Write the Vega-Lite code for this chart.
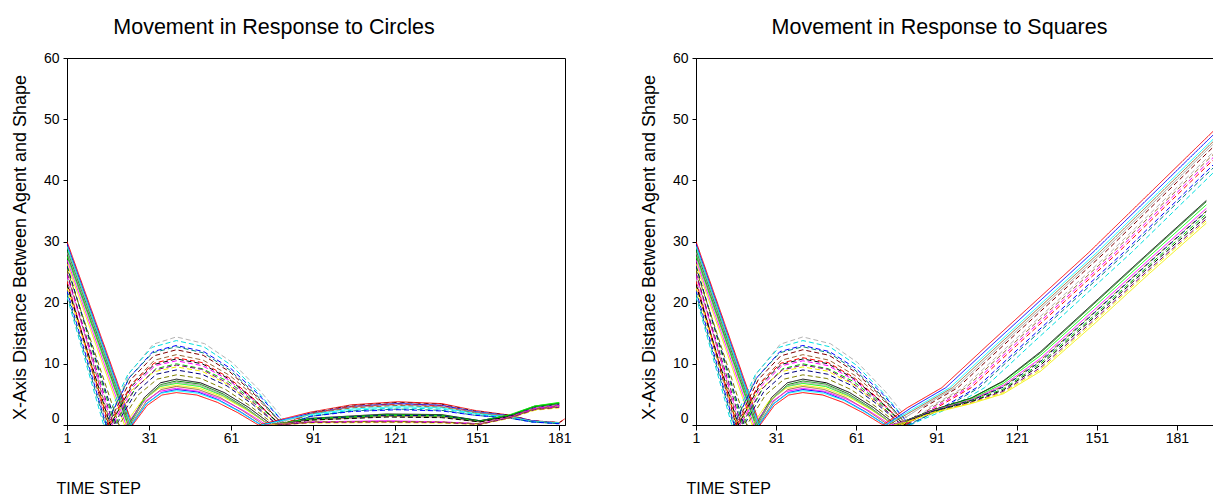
{
"$schema": "https://vega.github.io/schema/vega-lite/v6.json",
"background": "white",
"padding": {"left": 10, "top": 16, "right": 0, "bottom": 0},
"bounds": "flush",
"spacing": 131,
"config": {
 "font": "Liberation Sans",
 "view": {"stroke": "#000", "strokeWidth": 1},
 "axis": {"grid": false, "domainColor": "#000", "tickColor": "#000", "labelColor": "#000", "titleColor": "#000", "labelFont": "Liberation Sans", "titleFont": "Liberation Sans", "titleFontWeight": "normal"},
 "title": {"font": "Liberation Sans", "fontWeight": "normal", "color": "#000", "fontSize": 21.5}
},
"datasets": {
"early": [
{"s":1,"t":1,"v":30},{"s":1,"t":25,"v":0},{"s":1,"t":30.3,"v":3.2},{"s":1,"t":35.7,"v":4.9},{"s":1,"t":41,"v":5.3},{"s":1,"t":48.5,"v":4.9},{"s":1,"t":56,"v":3.7},{"s":1,"t":63.5,"v":2},{"s":1,"t":71,"v":0},
{"s":2,"t":1,"v":29.6},{"s":2,"t":24.6,"v":0},{"s":2,"t":30.1,"v":3.5},{"s":2,"t":35.5,"v":5.3},{"s":2,"t":41,"v":5.8},{"s":2,"t":48.8,"v":5.4},{"s":2,"t":56.5,"v":4.1},{"s":2,"t":64.3,"v":2.2},{"s":2,"t":72,"v":0},
{"s":3,"t":1,"v":29.2},{"s":3,"t":24.3,"v":0},{"s":3,"t":29.9,"v":3.8},{"s":3,"t":35.4,"v":5.8},{"s":3,"t":41,"v":6.3},{"s":3,"t":49,"v":5.8},{"s":3,"t":57,"v":4.5},{"s":3,"t":65,"v":2.4},{"s":3,"t":73,"v":0},
{"s":4,"t":1,"v":28},{"s":4,"t":23.5,"v":0},{"s":4,"t":29.3,"v":4.5},{"s":4,"t":35.2,"v":6.9},{"s":4,"t":41,"v":7.5},{"s":4,"t":49.8,"v":6.9},{"s":4,"t":58.5,"v":5.3},{"s":4,"t":67.3,"v":2.9},{"s":4,"t":76,"v":0},
{"s":5,"t":1,"v":28.6},{"s":5,"t":23.9,"v":0},{"s":5,"t":29.6,"v":4.3},{"s":5,"t":35.3,"v":6.6},{"s":5,"t":41,"v":7.2},{"s":5,"t":49.5,"v":6.7},{"s":5,"t":58,"v":5.1},{"s":5,"t":66.5,"v":2.8},{"s":5,"t":75,"v":0},
{"s":6,"t":1,"v":27.6},{"s":6,"t":23.2,"v":0},{"s":6,"t":29.1,"v":4.1},{"s":6,"t":35.1,"v":6.3},{"s":6,"t":41,"v":6.8},{"s":6,"t":49.5,"v":6.3},{"s":6,"t":58,"v":4.8},{"s":6,"t":66.5,"v":2.6},{"s":6,"t":75,"v":0},
{"s":7,"t":1,"v":27},{"s":7,"t":22.6,"v":0},{"s":7,"t":28.7,"v":3.6},{"s":7,"t":34.9,"v":5.5},{"s":7,"t":41,"v":6},{"s":7,"t":49.3,"v":5.5},{"s":7,"t":57.5,"v":4.2},{"s":7,"t":65.8,"v":2.3},{"s":7,"t":74,"v":0},
{"s":8,"t":1,"v":26.4},{"s":8,"t":22,"v":0},{"s":8,"t":28.3,"v":3.9},{"s":8,"t":34.7,"v":6},{"s":8,"t":41,"v":6.5},{"s":8,"t":49.5,"v":6},{"s":8,"t":58,"v":4.6},{"s":8,"t":66.5,"v":2.5},{"s":8,"t":75,"v":0},
{"s":9,"t":1,"v":29.2},{"s":9,"t":24.4,"v":0},{"s":9,"t":29.9,"v":3.4},{"s":9,"t":35.5,"v":5.2},{"s":9,"t":41,"v":5.6},{"s":9,"t":48.8,"v":5.2},{"s":9,"t":56.5,"v":4},{"s":9,"t":64.3,"v":2.1},{"s":9,"t":72,"v":0},
{"s":10,"t":1,"v":28.2},{"s":10,"t":23.7,"v":0},{"s":10,"t":29.5,"v":4.2},{"s":10,"t":35.2,"v":6.4},{"s":10,"t":41,"v":7},{"s":10,"t":49.5,"v":6.5},{"s":10,"t":58,"v":4.9},{"s":10,"t":66.5,"v":2.7},{"s":10,"t":75,"v":0},
{"s":11,"t":1,"v":24},{"s":11,"t":15.5,"v":0},{"s":11,"t":24,"v":8.6},{"s":11,"t":32.5,"v":13.2},{"s":11,"t":41,"v":14.4},{"s":11,"t":51.3,"v":13.3},{"s":11,"t":61.5,"v":10.2},{"s":11,"t":71.8,"v":5.5},{"s":11,"t":82,"v":0},
{"s":12,"t":1,"v":21},{"s":12,"t":14.4,"v":0},{"s":12,"t":23.3,"v":8.3},{"s":12,"t":32.1,"v":12.7},{"s":12,"t":41,"v":13.8},{"s":12,"t":51,"v":12.8},{"s":12,"t":61,"v":9.8},{"s":12,"t":71,"v":5.3},{"s":12,"t":81,"v":0},
{"s":13,"t":1,"v":22},{"s":13,"t":15.3,"v":0},{"s":13,"t":23.9,"v":7.8},{"s":13,"t":32.4,"v":12},{"s":13,"t":41,"v":13},{"s":13,"t":51,"v":12},{"s":13,"t":61,"v":9.2},{"s":13,"t":71,"v":5},{"s":13,"t":81,"v":0},
{"s":14,"t":1,"v":23},{"s":14,"t":16,"v":0},{"s":14,"t":24.3,"v":7.4},{"s":14,"t":32.7,"v":11.3},{"s":14,"t":41,"v":12.3},{"s":14,"t":50.8,"v":11.4},{"s":14,"t":60.5,"v":8.7},{"s":14,"t":70.3,"v":4.7},{"s":14,"t":80,"v":0},
{"s":15,"t":1,"v":25},{"s":15,"t":17,"v":0},{"s":15,"t":25,"v":6.9},{"s":15,"t":33,"v":10.6},{"s":15,"t":41,"v":11.5},{"s":15,"t":50.8,"v":10.6},{"s":15,"t":60.5,"v":8.1},{"s":15,"t":70.3,"v":4.4},{"s":15,"t":80,"v":0},
{"s":16,"t":1,"v":24.5},{"s":16,"t":17.5,"v":0},{"s":16,"t":25.3,"v":6.3},{"s":16,"t":33.2,"v":9.7},{"s":16,"t":41,"v":10.5},{"s":16,"t":50.5,"v":9.7},{"s":16,"t":60,"v":7.4},{"s":16,"t":69.5,"v":4},{"s":16,"t":79,"v":0},
{"s":17,"t":1,"v":26},{"s":17,"t":18.5,"v":0},{"s":17,"t":26,"v":6},{"s":17,"t":33.5,"v":9.2},{"s":17,"t":41,"v":10},{"s":17,"t":50.5,"v":9.2},{"s":17,"t":60,"v":7.1},{"s":17,"t":69.5,"v":3.8},{"s":17,"t":79,"v":0},
{"s":18,"t":1,"v":22.5},{"s":18,"t":16.5,"v":0},{"s":18,"t":24.7,"v":5.7},{"s":18,"t":32.8,"v":8.7},{"s":18,"t":41,"v":9.5},{"s":18,"t":50.3,"v":8.8},{"s":18,"t":59.5,"v":6.7},{"s":18,"t":68.8,"v":3.6},{"s":18,"t":78,"v":0},
{"s":19,"t":1,"v":26},{"s":19,"t":19,"v":0},{"s":19,"t":26.3,"v":5.4},{"s":19,"t":33.7,"v":8.3},{"s":19,"t":41,"v":9},{"s":19,"t":50.3,"v":8.3},{"s":19,"t":59.5,"v":6.4},{"s":19,"t":68.8,"v":3.4},{"s":19,"t":78,"v":0},
{"s":20,"t":1,"v":25.5},{"s":20,"t":20,"v":0},{"s":20,"t":27,"v":4.9},{"s":20,"t":34,"v":7.5},{"s":20,"t":41,"v":8.2},{"s":20,"t":50,"v":7.6},{"s":20,"t":59,"v":5.8},{"s":20,"t":68,"v":3.1},{"s":20,"t":77,"v":0},
{"s":21,"t":1,"v":23.5},{"s":21,"t":16.3,"v":0},{"s":21,"t":24.5,"v":6.6},{"s":21,"t":32.8,"v":10.1},{"s":21,"t":41,"v":11},{"s":21,"t":50.5,"v":10.2},{"s":21,"t":60,"v":7.8},{"s":21,"t":69.5,"v":4.2},{"s":21,"t":79,"v":0},
{"s":22,"t":1,"v":21.5},{"s":22,"t":15,"v":0},{"s":22,"t":23.7,"v":7.7},{"s":22,"t":32.3,"v":11.8},{"s":22,"t":41,"v":12.8},{"s":22,"t":50.8,"v":11.8},{"s":22,"t":60.5,"v":9},{"s":22,"t":70.3,"v":4.9},{"s":22,"t":80,"v":0},
{"s":23,"t":1,"v":24.8},{"s":23,"t":18,"v":0},{"s":23,"t":25.7,"v":5.9},{"s":23,"t":33.3,"v":9},{"s":23,"t":41,"v":9.8},{"s":23,"t":50.3,"v":9.1},{"s":23,"t":59.5,"v":6.9},{"s":23,"t":68.8,"v":3.8},{"s":23,"t":78,"v":0},
{"s":24,"t":1,"v":23},{"s":24,"t":16.8,"v":0},{"s":24,"t":24.9,"v":6.5},{"s":24,"t":32.9,"v":9.9},{"s":24,"t":41,"v":10.8},{"s":24,"t":50.5,"v":10},{"s":24,"t":60,"v":7.6},{"s":24,"t":69.5,"v":4.1},{"s":24,"t":79,"v":0}
],
"lateC": [
{"s":1,"t":71,"v":0},{"s":1,"t":90,"v":2.1},{"s":1,"t":105,"v":3.3},{"s":1,"t":122,"v":3.8},{"s":1,"t":138,"v":3.5},{"s":1,"t":150,"v":2.4},{"s":1,"t":163,"v":1.6},{"s":1,"t":171,"v":0.7},{"s":1,"t":181,"v":0.4},{"s":1,"t":183,"v":1},
{"s":14,"t":80,"v":0},{"s":14,"t":90,"v":2},{"s":14,"t":105,"v":3.2},{"s":14,"t":122,"v":3.7},{"s":14,"t":138,"v":3.4},{"s":14,"t":150,"v":2.3},{"s":14,"t":163,"v":1.6},{"s":14,"t":171,"v":0.7},{"s":14,"t":181,"v":0.4},{"s":14,"t":183,"v":0.9},
{"s":11,"t":82,"v":0},{"s":11,"t":90,"v":2},{"s":11,"t":105,"v":3.1},{"s":11,"t":122,"v":3.6},{"s":11,"t":138,"v":3.3},{"s":11,"t":150,"v":2.3},{"s":11,"t":163,"v":1.5},{"s":11,"t":171,"v":0.7},{"s":11,"t":181,"v":0.4},
{"s":2,"t":72,"v":0},{"s":2,"t":90,"v":1.9},{"s":2,"t":105,"v":3},{"s":2,"t":122,"v":3.5},{"s":2,"t":138,"v":3.2},{"s":2,"t":150,"v":2.2},{"s":2,"t":163,"v":1.5},{"s":2,"t":171,"v":0.7},{"s":2,"t":181,"v":0.3},
{"s":21,"t":79,"v":0},{"s":21,"t":90,"v":1.9},{"s":21,"t":105,"v":3},{"s":21,"t":122,"v":3.4},{"s":21,"t":138,"v":3.1},{"s":21,"t":150,"v":2.1},{"s":21,"t":163,"v":1.4},{"s":21,"t":171,"v":0.6},{"s":21,"t":181,"v":0.3},
{"s":10,"t":75,"v":0},{"s":10,"t":90,"v":1.8},{"s":10,"t":105,"v":2.9},{"s":10,"t":122,"v":3.3},{"s":10,"t":138,"v":3},{"s":10,"t":150,"v":2.1},{"s":10,"t":163,"v":1.4},{"s":10,"t":171,"v":0.6},{"s":10,"t":181,"v":0.3},
{"s":15,"t":80,"v":0},{"s":15,"t":90,"v":1.8},{"s":15,"t":105,"v":2.8},{"s":15,"t":122,"v":3.2},{"s":15,"t":138,"v":2.9},{"s":15,"t":150,"v":2},{"s":15,"t":163,"v":1.3},{"s":15,"t":171,"v":0.6},{"s":15,"t":181,"v":0.3},
{"s":9,"t":72,"v":0},{"s":9,"t":90,"v":1.7},{"s":9,"t":105,"v":2.6},{"s":9,"t":122,"v":3},{"s":9,"t":138,"v":2.8},{"s":9,"t":150,"v":1.9},{"s":9,"t":163,"v":1.3},{"s":9,"t":171,"v":0.6},{"s":9,"t":181,"v":0.3},
{"s":12,"t":81,"v":0},{"s":12,"t":90,"v":1.5},{"s":12,"t":105,"v":2.4},{"s":12,"t":122,"v":2.8},{"s":12,"t":138,"v":2.6},{"s":12,"t":150,"v":1.8},{"s":12,"t":163,"v":1.2},{"s":12,"t":171,"v":0.5},{"s":12,"t":181,"v":0.3},
{"s":22,"t":80,"v":0},{"s":22,"t":90,"v":1.4},{"s":22,"t":105,"v":2.3},{"s":22,"t":122,"v":2.6},{"s":22,"t":138,"v":2.4},{"s":22,"t":150,"v":1.6},{"s":22,"t":163,"v":1.1},{"s":22,"t":171,"v":0.5},{"s":22,"t":181,"v":0.2},
{"s":13,"t":81,"v":0},{"s":13,"t":90,"v":1.4},{"s":13,"t":105,"v":2.2},{"s":13,"t":122,"v":2.5},{"s":13,"t":138,"v":2.3},{"s":13,"t":150,"v":1.6},{"s":13,"t":163,"v":1.1},{"s":13,"t":171,"v":0.5},{"s":13,"t":181,"v":0.2},
{"s":4,"t":76,"v":0},{"s":4,"t":90,"v":1.1},{"s":4,"t":118,"v":1.8},{"s":4,"t":138,"v":1.7},{"s":4,"t":152,"v":0.7},{"s":4,"t":163,"v":1.6},{"s":4,"t":172,"v":3},{"s":4,"t":181,"v":3.5},
{"s":5,"t":75,"v":0},{"s":5,"t":90,"v":1},{"s":5,"t":118,"v":1.7},{"s":5,"t":138,"v":1.6},{"s":5,"t":152,"v":0.7},{"s":5,"t":163,"v":1.6},{"s":5,"t":172,"v":3.1},{"s":5,"t":181,"v":3.6},
{"s":6,"t":75,"v":0},{"s":6,"t":90,"v":1},{"s":6,"t":118,"v":1.6},{"s":6,"t":138,"v":1.5},{"s":6,"t":152,"v":0.6},{"s":6,"t":163,"v":1.7},{"s":6,"t":172,"v":3.1},{"s":6,"t":181,"v":3.7},
{"s":17,"t":79,"v":0},{"s":17,"t":90,"v":0.9},{"s":17,"t":118,"v":1.5},{"s":17,"t":138,"v":1.4},{"s":17,"t":152,"v":0.6},{"s":17,"t":163,"v":1.5},{"s":17,"t":172,"v":2.9},{"s":17,"t":181,"v":3.4},
{"s":19,"t":78,"v":0},{"s":19,"t":90,"v":1},{"s":19,"t":118,"v":1.6},{"s":19,"t":138,"v":1.5},{"s":19,"t":152,"v":0.6},{"s":19,"t":163,"v":1.5},{"s":19,"t":172,"v":2.8},{"s":19,"t":181,"v":3.3},
{"s":3,"t":73,"v":0},{"s":3,"t":90,"v":0.8},{"s":3,"t":118,"v":1.4},{"s":3,"t":138,"v":1.3},{"s":3,"t":152,"v":0.5},{"s":3,"t":163,"v":1.4},{"s":3,"t":172,"v":2.7},{"s":3,"t":181,"v":3.2},
{"s":24,"t":79,"v":0},{"s":24,"t":90,"v":0.8},{"s":24,"t":118,"v":1.3},{"s":24,"t":138,"v":1.2},{"s":24,"t":152,"v":0.5},{"s":24,"t":163,"v":1.4},{"s":24,"t":172,"v":2.6},{"s":24,"t":181,"v":3.1},
{"s":7,"t":74,"v":0},{"s":7,"t":90,"v":0.5},{"s":7,"t":118,"v":0.7},{"s":7,"t":138,"v":0.5},{"s":7,"t":152,"v":0.2},{"s":7,"t":163,"v":1.3},{"s":7,"t":172,"v":2.7},{"s":7,"t":181,"v":3.2},
{"s":8,"t":75,"v":0},{"s":8,"t":90,"v":0.4},{"s":8,"t":118,"v":0.5},{"s":8,"t":138,"v":0.4},{"s":8,"t":152,"v":0.1},{"s":8,"t":163,"v":1.2},{"s":8,"t":172,"v":2.5},{"s":8,"t":181,"v":2.9},
{"s":16,"t":79,"v":0},{"s":16,"t":90,"v":0.5},{"s":16,"t":118,"v":0.6},{"s":16,"t":138,"v":0.5},{"s":16,"t":152,"v":0.2},{"s":16,"t":163,"v":1.2},{"s":16,"t":172,"v":2.6},{"s":16,"t":181,"v":3},
{"s":18,"t":78,"v":0},{"s":18,"t":90,"v":0.3},{"s":18,"t":118,"v":0.4},{"s":18,"t":138,"v":0.3},{"s":18,"t":152,"v":0.1},{"s":18,"t":163,"v":1.1},{"s":18,"t":172,"v":2.4},{"s":18,"t":181,"v":2.8},
{"s":20,"t":77,"v":0},{"s":20,"t":90,"v":0.5},{"s":20,"t":118,"v":0.6},{"s":20,"t":138,"v":0.5},{"s":20,"t":152,"v":0.2},{"s":20,"t":163,"v":1.2},{"s":20,"t":172,"v":2.6},{"s":20,"t":181,"v":3},
{"s":23,"t":78,"v":0},{"s":23,"t":90,"v":0.4},{"s":23,"t":118,"v":0.5},{"s":23,"t":138,"v":0.4},{"s":23,"t":152,"v":0.1},{"s":23,"t":163,"v":1.2},{"s":23,"t":172,"v":2.5},{"s":23,"t":181,"v":2.9}
],
"lateS": [
{"s":1,"t":71,"v":0},{"s":1,"t":80,"v":2.8},{"s":1,"t":93,"v":6.1},{"s":1,"t":110,"v":13},{"s":1,"t":128,"v":20.2},{"s":1,"t":148,"v":28.2},{"s":1,"t":175,"v":39.7},{"s":1,"t":194.5,"v":48},
{"s":2,"t":72,"v":0},{"s":2,"t":81.5,"v":2.8},{"s":2,"t":94.5,"v":6.1},{"s":2,"t":111.5,"v":13},{"s":2,"t":129.5,"v":20.2},{"s":2,"t":149.5,"v":28.2},{"s":2,"t":176.5,"v":39.7},{"s":2,"t":194.5,"v":47.4},
{"s":9,"t":72,"v":0},{"s":9,"t":83,"v":2.8},{"s":9,"t":96,"v":6.1},{"s":9,"t":113,"v":13},{"s":9,"t":131,"v":20.2},{"s":9,"t":151,"v":28.2},{"s":9,"t":178,"v":39.7},{"s":9,"t":194.5,"v":46.7},
{"s":3,"t":73,"v":0},{"s":3,"t":84,"v":2.8},{"s":3,"t":97,"v":6.1},{"s":3,"t":114,"v":13},{"s":3,"t":132,"v":20.2},{"s":3,"t":152,"v":28.2},{"s":3,"t":179,"v":39.7},{"s":3,"t":194.5,"v":46.3},
{"s":10,"t":75,"v":0},{"s":10,"t":85,"v":2.8},{"s":10,"t":98,"v":6.1},{"s":10,"t":115,"v":13},{"s":10,"t":133,"v":20.2},{"s":10,"t":153,"v":28.2},{"s":10,"t":180,"v":39.7},{"s":10,"t":194.5,"v":45.9},
{"s":14,"t":80,"v":0},{"s":14,"t":86,"v":2.8},{"s":14,"t":99,"v":6.1},{"s":14,"t":116,"v":13},{"s":14,"t":134,"v":20.2},{"s":14,"t":154,"v":28.2},{"s":14,"t":181,"v":39.7},{"s":14,"t":194.5,"v":45.4},
{"s":11,"t":82,"v":0},{"s":11,"t":88,"v":2.8},{"s":11,"t":101,"v":6.1},{"s":11,"t":118,"v":13},{"s":11,"t":136,"v":20.2},{"s":11,"t":156,"v":28.2},{"s":11,"t":183,"v":39.7},{"s":11,"t":194.5,"v":44.6},
{"s":15,"t":80,"v":0},{"s":15,"t":89,"v":2.8},{"s":15,"t":102,"v":6.1},{"s":15,"t":119,"v":13},{"s":15,"t":137,"v":20.2},{"s":15,"t":157,"v":28.2},{"s":15,"t":184,"v":39.7},{"s":15,"t":194.5,"v":44.2},
{"s":16,"t":79,"v":0},{"s":16,"t":90,"v":2.8},{"s":16,"t":103,"v":6.1},{"s":16,"t":120,"v":13},{"s":16,"t":138,"v":20.2},{"s":16,"t":158,"v":28.2},{"s":16,"t":185,"v":39.7},{"s":16,"t":194.5,"v":43.7},
{"s":21,"t":79,"v":0},{"s":21,"t":91,"v":2.8},{"s":21,"t":104,"v":6.1},{"s":21,"t":121,"v":13},{"s":21,"t":139,"v":20.2},{"s":21,"t":159,"v":28.2},{"s":21,"t":186,"v":39.7},{"s":21,"t":194.5,"v":43.3},
{"s":13,"t":81,"v":0},{"s":13,"t":93,"v":2.8},{"s":13,"t":106,"v":6.1},{"s":13,"t":123,"v":13},{"s":13,"t":141,"v":20.2},{"s":13,"t":161,"v":28.2},{"s":13,"t":188,"v":39.7},{"s":13,"t":194.5,"v":42.5},
{"s":22,"t":80,"v":0},{"s":22,"t":94,"v":2.8},{"s":22,"t":107,"v":6.1},{"s":22,"t":124,"v":13},{"s":22,"t":142,"v":20.2},{"s":22,"t":162,"v":28.2},{"s":22,"t":189,"v":39.7},{"s":22,"t":194.5,"v":42},
{"s":12,"t":81,"v":0},{"s":12,"t":96,"v":2.8},{"s":12,"t":109,"v":6.1},{"s":12,"t":126,"v":13},{"s":12,"t":144,"v":20.2},{"s":12,"t":164,"v":28.2},{"s":12,"t":191,"v":39.7},{"s":12,"t":194.5,"v":41.2},
{"s":4,"t":76,"v":0},{"s":4,"t":80,"v":0.8},{"s":4,"t":90,"v":2.5},{"s":4,"t":104,"v":4.4},{"s":4,"t":116,"v":7.2},{"s":4,"t":130,"v":12},{"s":4,"t":150,"v":20},{"s":4,"t":170,"v":28},{"s":4,"t":192,"v":36.7},
{"s":5,"t":75,"v":0},{"s":5,"t":80,"v":0.8},{"s":5,"t":90,"v":2.5},{"s":5,"t":104,"v":4.4},{"s":5,"t":116,"v":7.1},{"s":5,"t":130,"v":11.8},{"s":5,"t":150,"v":19.8},{"s":5,"t":170,"v":27.8},{"s":5,"t":192,"v":36.5},
{"s":6,"t":75,"v":0},{"s":6,"t":80,"v":0.7},{"s":6,"t":90,"v":2.4},{"s":6,"t":104,"v":4.2},{"s":6,"t":116,"v":6.8},{"s":6,"t":130,"v":11.4},{"s":6,"t":150,"v":19.3},{"s":6,"t":170,"v":27.3},{"s":6,"t":192,"v":36},
{"s":7,"t":74,"v":0},{"s":7,"t":80,"v":0.7},{"s":7,"t":90,"v":2.4},{"s":7,"t":104,"v":4.1},{"s":7,"t":116,"v":6.5},{"s":7,"t":130,"v":10.9},{"s":7,"t":150,"v":18.8},{"s":7,"t":170,"v":26.8},{"s":7,"t":192,"v":35.4},
{"s":20,"t":77,"v":0},{"s":20,"t":80,"v":0.7},{"s":20,"t":90,"v":2.3},{"s":20,"t":104,"v":4},{"s":20,"t":116,"v":6.3},{"s":20,"t":130,"v":10.6},{"s":20,"t":150,"v":18.4},{"s":20,"t":170,"v":26.4},{"s":20,"t":192,"v":35},
{"s":19,"t":78,"v":0},{"s":19,"t":80,"v":0.7},{"s":19,"t":90,"v":2.3},{"s":19,"t":104,"v":4},{"s":19,"t":116,"v":6.2},{"s":19,"t":130,"v":10.4},{"s":19,"t":150,"v":18.3},{"s":19,"t":170,"v":26.3},{"s":19,"t":192,"v":34.9},
{"s":17,"t":79,"v":0},{"s":17,"t":80,"v":0.6},{"s":17,"t":90,"v":2.2},{"s":17,"t":104,"v":3.9},{"s":17,"t":116,"v":5.9},{"s":17,"t":130,"v":10.1},{"s":17,"t":150,"v":17.9},{"s":17,"t":170,"v":25.9},{"s":17,"t":192,"v":34.5},
{"s":24,"t":79,"v":0},{"s":24,"t":80,"v":0.6},{"s":24,"t":90,"v":2.2},{"s":24,"t":104,"v":3.8},{"s":24,"t":116,"v":5.7},{"s":24,"t":130,"v":9.8},{"s":24,"t":150,"v":17.6},{"s":24,"t":170,"v":25.6},{"s":24,"t":192,"v":34.1},
{"s":23,"t":78,"v":0},{"s":23,"t":80,"v":0.6},{"s":23,"t":90,"v":2.1},{"s":23,"t":104,"v":3.7},{"s":23,"t":116,"v":5.5},{"s":23,"t":130,"v":9.4},{"s":23,"t":150,"v":17.2},{"s":23,"t":170,"v":25.2},{"s":23,"t":192,"v":33.7},
{"s":18,"t":78,"v":0},{"s":18,"t":80,"v":0.5},{"s":18,"t":90,"v":2.1},{"s":18,"t":104,"v":3.6},{"s":18,"t":116,"v":5.3},{"s":18,"t":130,"v":9.1},{"s":18,"t":150,"v":16.9},{"s":18,"t":170,"v":24.9},{"s":18,"t":192,"v":33.4},
{"s":8,"t":75,"v":0},{"s":8,"t":80,"v":0.5},{"s":8,"t":90,"v":2},{"s":8,"t":104,"v":3.5},{"s":8,"t":116,"v":5.1},{"s":8,"t":130,"v":8.8},{"s":8,"t":150,"v":16.5},{"s":8,"t":170,"v":24.5},{"s":8,"t":192,"v":33}
]
},
"hconcat": [
{
 "width": 498, "height": 367,
 "title": {"text": "Movement in Response to Circles", "frame": "group", "anchor": "middle", "dx": -42, "baseline": "alphabetic", "offset": -4},
 "encoding": {
  "x": {"field": "t", "type": "quantitative", "scale": {"domain": [1, 183.1], "nice": false, "zero": false},
   "axis": {"values": [1,31,61,91,121,151,181], "format": "d", "labelFlush": false, "labelOverlap": false, "tickSize": 5, "labelPadding": 1, "labelFontSize": 14, "title": "TIME STEP", "titleFontSize": 16, "titleX": -11, "titleY": 68, "titleAlign": "left", "titleBaseline": "alphabetic"}},
  "y": {"field": "v", "type": "quantitative", "scale": {"domain": [0, 60], "nice": false},
   "axis": {"values": [0,10,20,30,40,50,60], "tickSize": 4, "labelPadding": 4, "labelFontSize": 14, "labelOverlap": false, "labelBaseline": {"condition": {"test": "datum.value === 0", "value": "bottom"}, "value": "middle"}, "title": "X-Axis Distance Between Agent and Shape", "titleFontSize": 18, "titleX": -47, "titleY": 189, "titleAngle": 270, "titleAlign": "center", "titleBaseline": "middle"}},
  "color": {"field": "s", "type": "nominal", "legend": null, "scale": {"domain": [1,2,3,4,5,6,7,8,9,10,11,12,13,14,15,16,17,18,19,20,21,22,23,24], "range": ["#FF0000","#0000FF","#996633","#000000","#008000","#00FF00","#FF00FF","#F2F200","#00FFFF","#A0A0A0","#B4B4B4","#00E0E0","#0000FF","#800000","#996633","#FF00FF","#00CC00","#F2F200","#000080","#808000","#FF0000","#008080","#800080","#000000"]}},
  "strokeDash": {"field": "s", "type": "nominal", "legend": null, "scale": {"domain": [1,2,3,4,5,6,7,8,9,10,11,12,13,14,15,16,17,18,19,20,21,22,23,24], "range": [[1,0],[1,0],[1,0],[1,0],[1,0],[1,0],[1,0],[1,0],[1,0],[1,0],[5,3],[5,3],[5,3],[5,3],[5,3],[5,3],[5,3],[5,3],[5,3],[5,3],[5,3],[5,3],[5,3],[5,3]]}}
 },
 "layer": [
  {"data": {"name": "early"}, "mark": {"type": "line", "strokeWidth": 1, "clip": true}},
  {"data": {"name": "lateC"}, "mark": {"type": "line", "strokeWidth": 1, "clip": true}}
 ]
},
{
 "width": 517, "height": 367,
 "title": {"text": "Movement in Response to Squares", "frame": "group", "anchor": "middle", "dx": -15, "baseline": "alphabetic", "offset": -4},
 "encoding": {
  "x": {"field": "t", "type": "quantitative", "scale": {"domain": [1, 194.5], "nice": false, "zero": false},
   "axis": {"values": [1,31,61,91,121,151,181], "format": "d", "labelFlush": false, "labelOverlap": false, "tickSize": 5, "labelPadding": 1, "labelFontSize": 14, "title": "TIME STEP", "titleFontSize": 16, "titleX": -10, "titleY": 68, "titleAlign": "left", "titleBaseline": "alphabetic"}},
  "y": {"field": "v", "type": "quantitative", "scale": {"domain": [0, 60], "nice": false},
   "axis": {"values": [0,10,20,30,40,50,60], "tickSize": 4, "labelPadding": 4, "labelFontSize": 14, "labelOverlap": false, "labelBaseline": {"condition": {"test": "datum.value === 0", "value": "bottom"}, "value": "middle"}, "title": "X-Axis Distance Between Agent and Shape", "titleFontSize": 18, "titleX": -47, "titleY": 189, "titleAngle": 270, "titleAlign": "center", "titleBaseline": "middle"}},
  "color": {"field": "s", "type": "nominal", "legend": null, "scale": {"domain": [1,2,3,4,5,6,7,8,9,10,11,12,13,14,15,16,17,18,19,20,21,22,23,24], "range": ["#FF0000","#0000FF","#996633","#000000","#008000","#00FF00","#FF00FF","#F2F200","#00FFFF","#A0A0A0","#B4B4B4","#00E0E0","#0000FF","#800000","#996633","#FF00FF","#00CC00","#F2F200","#000080","#808000","#FF0000","#008080","#800080","#000000"]}},
  "strokeDash": {"field": "s", "type": "nominal", "legend": null, "scale": {"domain": [1,2,3,4,5,6,7,8,9,10,11,12,13,14,15,16,17,18,19,20,21,22,23,24], "range": [[1,0],[1,0],[1,0],[1,0],[1,0],[1,0],[1,0],[1,0],[1,0],[1,0],[5,3],[5,3],[5,3],[5,3],[5,3],[5,3],[5,3],[5,3],[5,3],[5,3],[5,3],[5,3],[5,3],[5,3]]}}
 },
 "layer": [
  {"data": {"name": "early"}, "mark": {"type": "line", "strokeWidth": 1, "clip": true}},
  {"data": {"name": "lateS"}, "mark": {"type": "line", "strokeWidth": 1, "clip": true}}
 ]
}
]
}
